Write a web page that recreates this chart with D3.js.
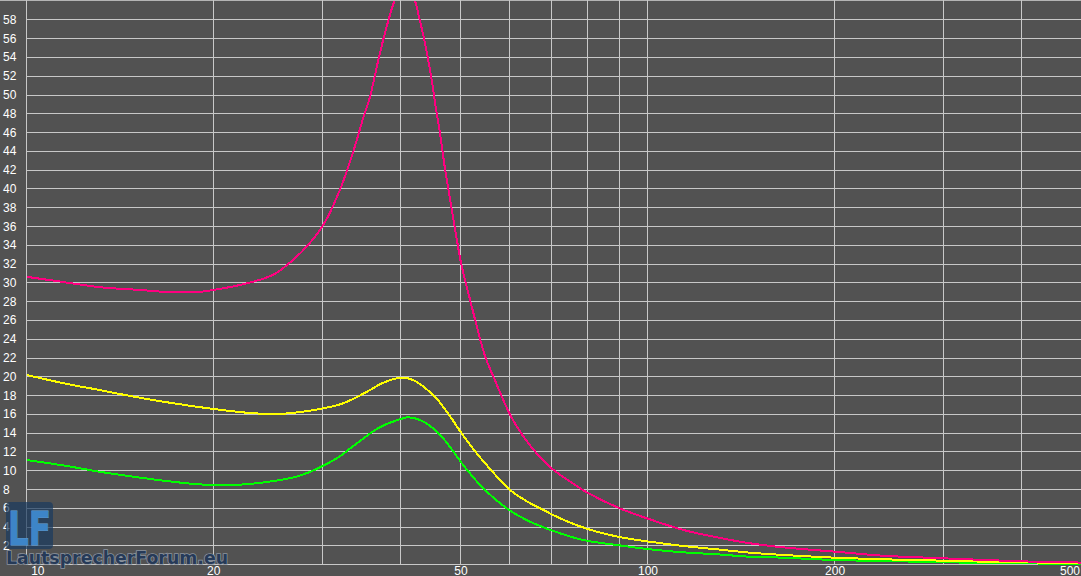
<!DOCTYPE html>
<html>
<head>
<meta charset="utf-8">
<script src="https://cdn.jsdelivr.net/npm/d3@7/dist/d3.min.js"></script>
<style>
  html, body { margin: 0; padding: 0; background: #525252; }
  svg { display: block; }
</style>
</head>
<body>
<svg id="chart" width="1081" height="576"></svg>
<script>
// ---- data (frequency in Hz, impedance in Ohm) ----
const xTicks = [10, 20, 30, 40, 50, 60, 70, 80, 90, 100, 200, 300, 400, 500];
const xLabels = [10, 20, 50, 100, 200, 500];
const yTicks = d3.range(0, 60, 2);
const yLabels = d3.range(2, 60, 2);

const pinkFreq = [10, 11.3, 13.1, 15.2, 17.2, 19.0, 20, 22.6, 24.9, 26.4, 28.2, 30.0, 31.9, 33.6, 34.8, 35.7, 36.9, 38.2, 39.3, 40.6, 42.0, 43.0, 43.9, 44.9, 45.4, 46.3, 47.1, 48.0, 49.2, 50, 51.6, 52.7, 54.7, 56.7, 60, 63, 66.2, 70, 74.9, 80, 90, 100, 114, 129, 146, 165, 200, 239, 300, 400, 500];
const pinkOhm  = [30.7, 30.2, 29.6, 29.3, 29.05, 29.1, 29.3, 30.0, 30.9, 32.1, 33.9, 36.2, 39.9, 44.2, 47.6, 49.9, 54.1, 58.0, 60.6, 63.0, 60.5, 57.8, 55.1, 51.5, 49.3, 45.8, 42.3, 39.0, 34.8, 32.2, 28.5, 26.1, 22.2, 19.7, 16.0, 13.7, 11.9, 10.3, 8.9, 7.7, 6.06, 4.95, 3.75, 2.97, 2.33, 1.9, 1.44, 1.01, 0.73, 0.41, 0.28];

const yellowFreq = [10, 11.6, 13.1, 14.85, 16.8, 20, 23.2, 25.5, 27.5, 30, 32.3, 35.3, 37.5, 40, 41.9, 45.1, 46.3, 48, 49.7, 52.1, 55.7, 60, 63.9, 67.1, 73.2, 80, 90, 100.7, 114, 129, 146, 165, 200, 239, 300, 350, 500];
const yellowOhm  = [20.25, 19.3, 18.65, 17.95, 17.35, 16.63, 16.17, 16.1, 16.3, 16.7, 17.23, 18.47, 19.43, 19.96, 19.71, 18.12, 17.27, 15.88, 14.39, 12.53, 10.24, 8.0, 6.78, 6.04, 4.81, 3.85, 3.0, 2.5, 2.04, 1.69, 1.33, 1.09, 0.8, 0.63, 0.48, 0.37, 0.22];

const greenFreq = [10, 11.6, 13.1, 14.85, 16.8, 19, 21.5, 24.3, 27.5, 31.4, 34.0, 37.0, 40, 41.1, 43.5, 46.3, 49.5, 50.4, 54.3, 59.2, 63.4, 70, 78.7, 89.1, 100.7, 114, 129, 146, 165, 200, 239, 300, 400, 500];
const greenOhm  = [11.2, 10.56, 9.95, 9.42, 8.96, 8.6, 8.54, 8.85, 9.53, 11.3, 12.98, 14.68, 15.56, 15.74, 15.28, 13.86, 11.38, 10.67, 8.19, 6.06, 4.89, 3.7, 2.68, 2.15, 1.69, 1.37, 1.16, 0.9, 0.8, 0.55, 0.45, 0.31, 0.2, 0.13];

const series = [
  { name: "green",  color: "#00ff00", freq: greenFreq,  ohm: greenOhm },
  { name: "yellow", color: "#ffff00", freq: yellowFreq, ohm: yellowOhm },
  { name: "pink",   color: "#ff0080", freq: pinkFreq,   ohm: pinkOhm }
];

// ---- layout ----
const W = 1081, H = 576;
const plotLeft = 26.7, plotRight = 1082.3, plotTop = 1.6, plotBottom = 565.2;

const x = d3.scaleLog().domain([10, 500]).range([plotLeft, plotRight]);
const y = d3.scaleLinear().domain([0, 60]).range([plotBottom, plotTop]);

const svg = d3.select("#chart");
svg.append("rect").attr("width", W).attr("height", H).attr("fill", "#525252");

const grid = svg.append("g").attr("stroke", "#c8c8c8").attr("stroke-width", 1).attr("shape-rendering", "crispEdges");
// horizontal gridlines
grid.selectAll("line.h").data(yTicks).join("line")
  .attr("class", "h")
  .attr("x1", Math.floor(plotLeft) + 0.5).attr("x2", W)
  .attr("y1", d => Math.round(y(d)) - 0.5).attr("y2", d => Math.round(y(d)) - 0.5);
// top border
grid.append("line").attr("x1", 0).attr("x2", W).attr("y1", 0.5).attr("y2", 0.5).attr("stroke", "#b4b4b4");
// vertical gridlines
grid.selectAll("line.v").data(xTicks).join("line")
  .attr("class", "v")
  .attr("x1", d => Math.round(x(d)) - 0.5).attr("x2", d => Math.round(x(d)) - 0.5)
  .attr("y1", 0).attr("y2", Math.round(y(0)));

// y labels
svg.append("g").selectAll("text").data(yLabels).join("text")
  .attr("x", 3).attr("y", d => y(d) + 3.5)
  .attr("fill", "#ffffff")
  .attr("font-family", "'Liberation Sans', Arial, sans-serif")
  .attr("font-size", 12)
  .text(d => d);

// x labels
svg.append("g").selectAll("text").data(xLabels).join("text")
  .attr("x", d => d === 10 ? x(d) + 4.5 : (d === 500 ? 1080 : x(d)))
  .attr("y", 574.5)
  .attr("text-anchor", d => d === 10 ? "start" : (d === 500 ? "end" : "middle"))
  .attr("fill", "#ffffff")
  .attr("font-family", "'Liberation Sans', Arial, sans-serif")
  .attr("font-size", 12)
  .text(d => d);

// clip
svg.append("clipPath").attr("id", "plotclip")
  .append("rect").attr("x", plotLeft).attr("y", 1).attr("width", W - plotLeft).attr("height", plotBottom - 1);

const line = d3.line()
  .x(d => x(d[0]))
  .y(d => y(d[1]))
  .curve(d3.curveCatmullRom.alpha(0.5));

svg.append("g").attr("clip-path", "url(#plotclip)")
  .selectAll("path").data(series).join("path")
  .attr("d", s => line(s.freq.map((f, i) => [f, s.ohm[i]])))
  .attr("fill", "none")
  .attr("stroke", s => s.color)
  .attr("stroke-width", 2)
  .attr("shape-rendering", "crispEdges");

// watermark logo
const logo = svg.append("g");
logo.append("rect")
  .attr("x", 6).attr("y", 502).attr("width", 47).attr("height", 47).attr("rx", 4)
  .attr("fill", "#1a3a60").attr("fill-opacity", 0.7);
logo.append("text")
  .attr("x", 8).attr("y", 545)
  .attr("font-family", "'DejaVu Sans', sans-serif").attr("font-weight", "bold")
  .attr("font-size", 46)
  .attr("textLength", 43).attr("lengthAdjust", "spacingAndGlyphs")
  .attr("fill", "#3d85c8").attr("stroke", "#6fa6d8").attr("stroke-width", 0.8)
  .attr("paint-order", "stroke")
  .text("LF");
logo.append("text")
  .attr("x", 6).attr("y", 564)
  .attr("font-family", "'DejaVu Sans', sans-serif").attr("font-weight", "bold")
  .attr("font-size", 18)
  .attr("textLength", 222).attr("lengthAdjust", "spacingAndGlyphs")
  .attr("fill", "#263a58").attr("stroke", "#8a929e").attr("stroke-width", 1.6)
  .attr("paint-order", "stroke")
  .text("LautsprecherForum.eu");
</script>
</body>
</html>
